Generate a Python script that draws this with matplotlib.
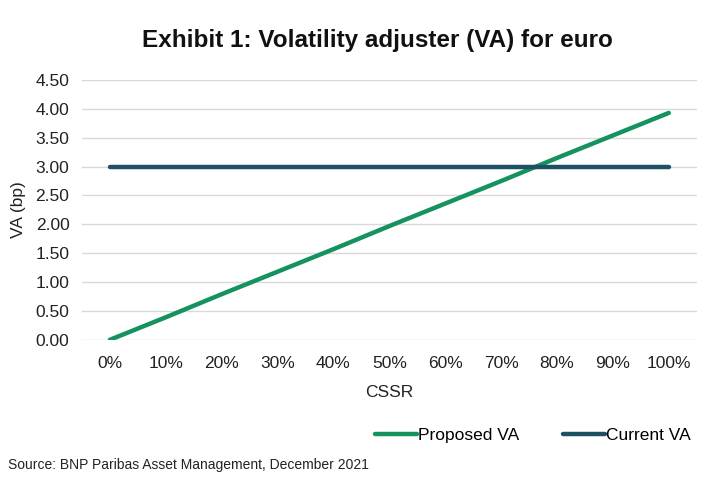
import matplotlib
matplotlib.use("Agg")
import matplotlib.pyplot as plt
from matplotlib import font_manager

names = {f.name for f in font_manager.fontManager.ttflist}
fam = ["Liberation Sans Narrow", "Liberation Sans", "DejaVu Sans"]
fam = [f for f in fam if f in names] or ["DejaVu Sans"]
plt.rcParams["font.family"] = fam

categories = ["0%", "10%", "20%", "30%", "40%", "50%", "60%", "70%", "80%", "90%", "100%"]
proposed_va = [0.00, 0.39, 0.79, 1.18, 1.57, 1.97, 2.36, 2.75, 3.15, 3.54, 3.93]
current_va = [3.00, 3.00, 3.00, 3.00, 3.00, 3.00, 3.00, 3.00, 3.00, 3.00, 3.00]
yticks = [0.0, 0.5, 1.0, 1.5, 2.0, 2.5, 3.0, 3.5, 4.0, 4.5]

fig = plt.figure(figsize=(7.25, 4.82), dpi=100)
ax = fig.add_axes([0.113, 0.295, 0.848, 0.539])
x = list(range(len(categories)))
ax.plot(x, proposed_va, color="#16925E", lw=3.2, solid_capstyle="round", label="Proposed VA", zorder=3)
ax.plot(x, current_va, color="#1E5064", lw=3.2, solid_capstyle="round", label="Current VA", zorder=3)

ax.set_xlim(-0.5, len(categories) - 0.5)
ax.set_ylim(0, 4.5)
ax.set_yticks(yticks)
ax.set_yticklabels([f"{v:.2f}" for v in yticks], fontsize=12.5, color="#222222")
ax.set_xticks(x)
ax.set_xticklabels(categories, fontsize=12.5, color="#222222")
ax.tick_params(length=0, pad=9)
ax.tick_params(axis="x", pad=12)
ax.grid(axis="y", color="#D9D9D9", lw=1)
for s in ax.spines.values():
    s.set_visible(False)
ax.set_axisbelow(True)

ax.set_xlabel("CSSR", fontsize=12.5, color="#222222", labelpad=10)
ax.set_ylabel("VA (bp)", fontsize=12.5, color="#222222", labelpad=7)

fig.text(0.52, 0.915, "Exhibit 1: Volatility adjuster (VA) for euro", ha="center", va="center",
         fontsize=17.5, fontweight="bold", color="#111111")
fig.text(0.011, 0.035, "Source: BNP Paribas Asset Management, December 2021", ha="left", va="center",
         fontsize=10, color="#222222")

leg = fig.legend(loc="center right", bbox_to_anchor=(0.975, 0.097), ncol=2, frameon=False,
                 fontsize=12.5, handlelength=2.4, handletextpad=0.1, columnspacing=2.5)

fig.savefig("out.png", dpi=100)
